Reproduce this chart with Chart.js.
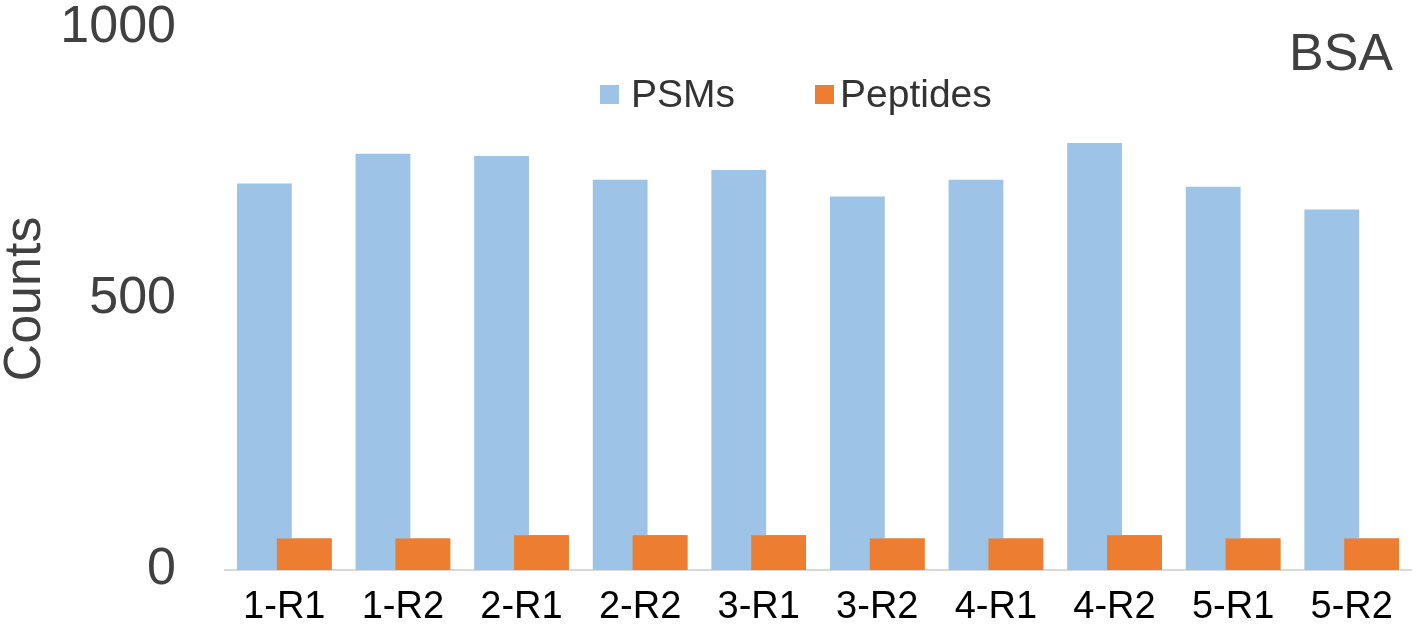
<!DOCTYPE html>
<html>
<head>
<meta charset="utf-8">
<script src="https://cdn.jsdelivr.net/npm/chart.js@4/dist/chart.umd.min.js"></script>
<style>
  html, body { margin: 0; padding: 0; background: #ffffff; }
  #wrap { width: 1418px; height: 634px; position: relative; }
</style>
</head>
<body>
<div id="wrap"><canvas id="c"></canvas></div>
<script>
const categories = ['1-R1', '1-R2', '2-R1', '2-R2', '3-R1', '3-R2', '4-R1', '4-R2', '5-R1', '5-R2'];
const psmValues = [713, 768, 764, 720, 738, 689, 720, 788, 707, 665];
const peptideValues = [58, 58, 64, 64, 64, 58, 58, 64, 58, 58];
const yTickValues = [0, 500, 1000];
const seriesNames = ['PSMs', 'Peptides'];
const seriesColors = ['#9DC3E6', '#ED7D31'];
const panelLabel = 'BSA';

const FONT = "'Liberation Sans', Arial, Helvetica, sans-serif";

// draw the Peptides bars above the overlapping PSMs bars
const redrawOnTop = {
  id: 'redrawOnTop',
  afterDatasetsDraw(chart) {
    const meta = chart.getDatasetMeta(1);
    if (meta && !meta.hidden) {
      chart.ctx.save();
      meta.controller.draw();
      chart.ctx.restore();
    }
  }
};

// legend placed inside the plot area, plus the panel label
const overlayText = {
  id: 'overlayText',
  afterDraw(chart) {
    const ctx = chart.ctx;
    ctx.save();
    const legendItems = [
      { box: 600, text: 631 },
      { box: 815, text: 840 }
    ];
    ctx.font = '39px ' + FONT;
    ctx.textBaseline = 'middle';
    ctx.textAlign = 'left';
    chart.data.datasets.forEach((ds, i) => {
      const it = legendItems[i];
      ctx.fillStyle = ds.backgroundColor;
      ctx.fillRect(it.box, 85, 19, 19);
      ctx.fillStyle = '#333333';
      ctx.fillText(ds.label, it.text, 96);
    });
    ctx.font = '52px ' + FONT;
    ctx.fillStyle = '#404040';
    ctx.textAlign = 'right';
    ctx.textBaseline = 'alphabetic';
    ctx.fillText(panelLabel, 1393, 70);
    ctx.restore();
  }
};

new Chart(document.getElementById('c'), {
  type: 'bar',
  data: {
    labels: categories,
    datasets: [
      {
        label: seriesNames[0],
        data: psmValues,
        backgroundColor: seriesColors[0],
        borderWidth: 0,
        categoryPercentage: 0.672,
        barPercentage: 1.375
      },
      {
        label: seriesNames[1],
        data: peptideValues,
        backgroundColor: seriesColors[1],
        borderWidth: 0,
        categoryPercentage: 0.672,
        barPercentage: 1.375
      }
    ]
  },
  options: {
    responsive: true,
    maintainAspectRatio: false,
    animation: false,
    layout: { padding: { top: 28, right: 7, bottom: 0, left: 0 } },
    plugins: {
      legend: { display: false },
      tooltip: { enabled: false },
      title: { display: false }
    },
    scales: {
      x: {
        grid: { display: false, drawTicks: true, tickLength: 19 },
        border: { display: true, color: '#d9d9d9', width: 2 },
        ticks: {
          color: '#000000',
          padding: 0,
          maxRotation: 0,
          autoSkip: false,
          font: { family: FONT, size: 38, lineHeight: 1.0 }
        },
        afterFit(scale) { scale.height = 64; }
      },
      y: {
        min: 0,
        max: 1000,
        grid: { display: false, drawTicks: true, tickLength: 49 },
        border: { display: false },
        afterBuildTicks(scale) { scale.ticks = yTickValues.map(v => ({ value: v })); },
        ticks: {
          color: '#404040',
          padding: 0,
          font: { family: FONT, size: 52, lineHeight: 1.0 },
          callback: (v) => String(v)
        },
        title: {
          display: true,
          text: 'Counts',
          color: '#404040',
          padding: 0,
          font: { family: FONT, size: 52, lineHeight: 1.0 }
        },
        afterFit(scale) { scale.width = 225; }
      }
    }
  },
  plugins: [redrawOnTop, overlayText]
});
</script>
</body>
</html>
